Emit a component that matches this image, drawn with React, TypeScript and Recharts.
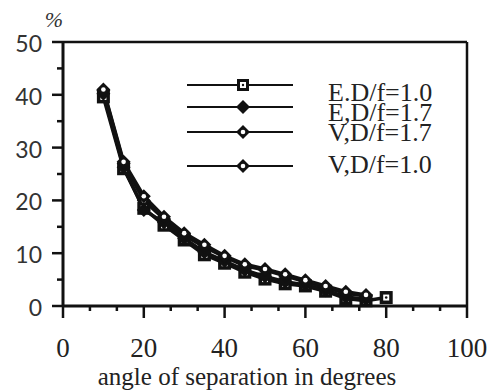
import React from "react";
import { LineChart, Line, XAxis, YAxis, ReferenceLine, Legend } from "recharts";

const degrees = [10, 15, 20, 25, 30, 35, 40, 45, 50, 55, 60, 65, 70, 75, 80];
const eDf10 = [39.6, 26, 18.5, 15.3, 12.5, 9.7, 8.1, 6.4, 5.1, 4.2, 3.8, 2.8, 1.4, 1.0, 1.6];
const eDf17 = [40.2, 26.3, 18.2, 15.8, 12.8, 10.2, 8.5, 6.8, 5.6, 4.6, 4.0, 3.0, 1.7, 1.3, null];
const vDf17 = [40.8, 27, 20, 16.5, 13.4, 11.2, 9.3, 7.6, 6.8, 5.7, 4.6, 3.5, 2.4, 1.9, null];
const vDf10 = [41, 27.3, 20.8, 16.9, 13.8, 11.6, 9.5, 7.9, 7.0, 6.0, 4.9, 3.8, 2.7, 2.1, null];

const xTicks = [0, 20 / 3, 40 / 3, 20, 80 / 3, 100 / 3, 40, 140 / 3, 160 / 3, 60, 200 / 3, 220 / 3, 80, 260 / 3, 280 / 3, 100];
const yTicks = [0, 5, 10, 15, 20, 25, 30, 35, 40, 45, 50];

const legendLabels = ["E.D/f=1.0", "E,D/f=1.7", "V,D/f=1.7", "V,D/f=1.0"];

const data = degrees.map((d, i) => ({
  deg: d,
  e10: eDf10[i],
  e17: eDf17[i],
  v17: vDf17[i],
  v10: vDf10[i],
}));

const W = 485;
const H = 384;

function SquareMark({ cx, cy }: { cx: number; cy: number }) {
  return (
    <g>
      <rect x={cx - 6.5} y={cy - 6.5} width={13} height={13} fill="#111" />
      <rect x={cx - 3} y={cy - 3} width={6} height={6} fill="#fff" />
      <circle cx={cx} cy={cy} r={1.3} fill="#111" />
    </g>
  );
}

function DiamondMark({ cx, cy, open }: { cx: number; cy: number; open: boolean }) {
  const r = 7;
  return (
    <g>
      <polygon
        points={`${cx},${cy - r} ${cx + r},${cy} ${cx},${cy + r} ${cx - r},${cy}`}
        fill="#111"
      />
      {open ? <circle cx={cx} cy={cy} r={2.3} fill="#fff" /> : null}
    </g>
  );
}

const makeDot = (kind: string) => (props: any) => {
  const { cx, cy, index } = props;
  if (cx == null || cy == null || Number.isNaN(cy)) return <g key={`${kind}-${index}`} />;
  if (kind === "sq") return <g key={`${kind}-${index}`}><SquareMark cx={cx} cy={cy} /></g>;
  return (
    <g key={`${kind}-${index}`}>
      <DiamondMark cx={cx} cy={cy} open={kind === "open"} />
    </g>
  );
};

const XTick = (props: any) => {
  const { x, y, payload } = props;
  const v = payload.value;
  const major = Math.abs(v / 20 - Math.round(v / 20)) < 0.001;
  return (
    <g>
      <line x1={x} x2={x} y1={y} y2={y + (major ? 12 : 5)} stroke="#111" strokeWidth={2.5} />
      {major ? (
        <text
          x={x}
          y={y + 51}
          textAnchor="middle"
          fontFamily="'Liberation Serif', serif"
          fontSize={27}
          fill="#222"
        >
          {Math.round(v)}
        </text>
      ) : null}
    </g>
  );
};

const YTick = (props: any) => {
  const { x, y, payload } = props;
  const v = payload.value;
  const major = v % 10 === 0;
  return (
    <g>
      <line x1={x - (major ? 11 : 6)} x2={x} y1={y} y2={y} stroke="#111" strokeWidth={2.5} />
      {major ? (
        <text
          x={x - 21}
          y={y + 10}
          textAnchor="end"
          fontFamily="Lato, 'Open Sans', sans-serif"
          fontSize={23}
          fill="#333"
        >
          {v}
        </text>
      ) : null}
    </g>
  );
};

const XLabel = () => (
  <text
    x={239}
    y={377}
    textAnchor="middle"
    fontFamily="'Liberation Serif', serif"
    fontSize={25}
    fill="#222"
  >
    angle of separation in degrees
  </text>
);

const LegendBox = () => {
  const lineY = [77, 99, 124, 158];
  const textY = [93, 113, 133, 165];
  const kinds = ["sq", "filled", "open", "open"];
  return (
    <svg width={W} height={H} style={{ position: "absolute", left: 0, top: 0 }}>
      {legendLabels.map((lab, i) => (
        <g key={lab}>
          <line x1={179} x2={285} y1={lineY[i]} y2={lineY[i]} stroke="#111" strokeWidth={2.2} />
          {kinds[i] === "sq" ? (
            <g>
              <rect x={229} y={lineY[i] - 6} width={12} height={12} fill="#111" />
              <rect x={232} y={lineY[i] - 3} width={6} height={6} fill="#fff" />
              <circle cx={235} cy={lineY[i]} r={1.2} fill="#111" />
            </g>
          ) : (
            <DiamondMark cx={235} cy={lineY[i]} open={kinds[i] === "open"} />
          )}
          <text
            x={320}
            y={textY[i]}
            fontFamily="'Liberation Serif', serif"
            fontSize={26}
            fill="#222"
          >
            {lab}
          </text>
        </g>
      ))}
    </svg>
  );
};

export default function App() {
  return (
    <div style={{ width: W, height: H, position: "absolute", left: 8, top: 8, background: "#fff" }}>
      <LineChart
        width={W}
        height={H}
        data={data}
        margin={{ top: 34, right: 26, left: 0, bottom: 0 }}
      >
        <XAxis
          dataKey="deg"
          type="number"
          domain={[0, 100]}
          ticks={xTicks}
          interval={0}
          tickSize={0}
          tickMargin={0}
          tickLine={false}
          tick={<XTick />}
          axisLine={{ stroke: "#111", strokeWidth: 3 }}
          height={86}
          label={<XLabel />}
        />
        <YAxis
          type="number"
          domain={[0, 50]}
          ticks={yTicks}
          interval={0}
          tickSize={0}
          tickMargin={0}
          tickLine={false}
          tick={<YTick />}
          axisLine={{ stroke: "#111", strokeWidth: 3 }}
          width={55}
        />
        <ReferenceLine y={50} stroke="#111" strokeWidth={2.5} />
        <ReferenceLine x={100} stroke="#111" strokeWidth={2.5} />
        <Legend
          layout="vertical"
          align="center"
          verticalAlign="middle"
          width={W}
          height={H}
          wrapperStyle={{ position: "absolute", left: 0, top: 0, width: W, height: H, pointerEvents: "none" }}
          content={() => <LegendBox />}
        />
        <Line
          dataKey="e10"
          stroke="#111"
          strokeWidth={3.5}
          dot={makeDot("sq")}
          isAnimationActive={false}
        />
        <Line
          dataKey="e17"
          stroke="#111"
          strokeWidth={3.5}
          dot={makeDot("filled")}
          isAnimationActive={false}
        />
        <Line
          dataKey="v17"
          stroke="#111"
          strokeWidth={3.5}
          dot={makeDot("open")}
          isAnimationActive={false}
        />
        <Line
          dataKey="v10"
          stroke="#111"
          strokeWidth={3.5}
          dot={makeDot("open")}
          isAnimationActive={false}
        />
      </LineChart>
      <svg
        width={60}
        height={30}
        style={{ position: "absolute", left: 0, top: 0 }}
      >
        <text x={46} y={19} textAnchor="middle" fontFamily="'Liberation Serif', serif" fontStyle="italic" fontSize={22} fill="#333">
          %
        </text>
      </svg>
    </div>
  );
}
